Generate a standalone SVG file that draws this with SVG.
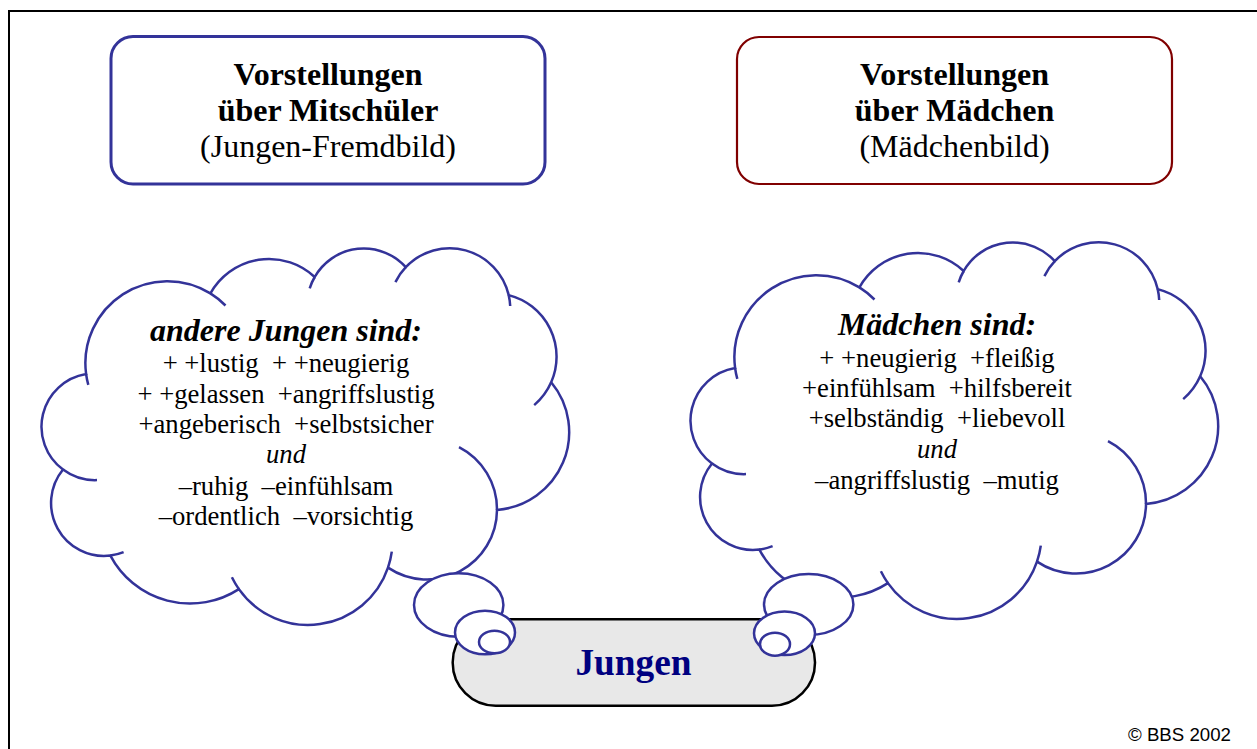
<svg xmlns="http://www.w3.org/2000/svg" xmlns:xlink="http://www.w3.org/1999/xlink" width="1257" height="749" viewBox="0 0 1257 749">
<style>
.t{font-family:"Liberation Serif","Times New Roman",serif;fill:#000;text-anchor:middle;white-space:pre}
.hb{font-size:32px;font-weight:bold}
.hr{font-size:32px}
.ct{font-size:32px;font-weight:bold;font-style:italic}
.b{font-size:26.67px}
.i{font-style:italic}
.cl{fill:#fff;stroke:#333399;stroke-width:2.5}
.st{fill:none;stroke:#333399;stroke-width:2.5}
</style>
<defs>
<g id="cloud">
<path class="cl" d="M86.1,374 A82,82 0 0 1 210.4,293.4 A67,67 0 0 1 314.7,277 A56.5,56.5 0 0 1 405.8,267.2 A60.5,60.5 0 0 1 508.7,295.1 A63.6,63.6 0 0 1 551.2,382.3 A78,78 0 0 1 497,509.9 A70,70 0 0 1 388,567.6 A84.5,84.5 0 0 1 238.9,589.1 A90,90 0 0 1 110.4,555.6 A53,53 0 0 1 63,469.5 A53.4,53.4 0 0 1 86.1,374 Z"/>
<path class="st" d="M88.3,384.9 A82,82 0 0 1 86.1,374 M210.4,293.4 A82,82 0 0 1 225.5,305.5 M309.7,288.3 A56.5,56.5 0 0 1 314.7,277 M395.4,282.1 A60.5,60.5 0 0 1 405.8,267.2 M508.7,295.1 A60.5,60.5 0 0 1 510.2,306 M551.2,382.3 A63.6,63.6 0 0 1 534.2,405.1 M459,447.1 A70,70 0 0 1 497,509.9 M391.8,551.7 A84.5,84.5 0 0 1 388,567.6 M238.9,589.1 A84.5,84.5 0 0 1 231.9,577.3 M123.6,552.2 A53,53 0 0 1 110.4,555.6 M97,480.1 A53.4,53.4 0 0 1 63,469.5"/>
</g>
</defs>
<rect width="1257" height="749" fill="#fff"/>
<path d="M9,749 V11 H1257" fill="none" stroke="#000" stroke-width="2"/>

<g id="box-left">
<rect x="111" y="36.5" width="434" height="147.5" rx="22" fill="#fff" stroke="#333399" stroke-width="3"/>
<text class="t hb" x="328" y="85">Vorstellungen</text>
<text class="t hb" x="328" y="121">über Mitschüler</text>
<text class="t hr" x="328" y="157">(Jungen-Fremdbild)</text>
</g>

<g id="box-right">
<rect x="737" y="37" width="435" height="147" rx="22" fill="#fff" stroke="#800000" stroke-width="2.2"/>
<text class="t hb" x="954.5" y="85">Vorstellungen</text>
<text class="t hb" x="954.5" y="121">über Mädchen</text>
<text class="t hr" x="954.5" y="157">(Mädchenbild)</text>
</g>

<g id="label-jungen">
<rect x="452.7" y="619.3" width="362.3" height="86.4" rx="43" ry="43" fill="#e8e8e8" stroke="#000" stroke-width="2.5"/>
<text x="633.5" y="675" font-family="'Liberation Serif','Times New Roman',serif" font-size="37.3" font-weight="bold" fill="#000080" text-anchor="middle">Jungen</text>
</g>

<g id="cloud-left">
<use xlink:href="#cloud" href="#cloud"/>
<ellipse class="cl" cx="458.7" cy="605" rx="44.7" ry="31.7"/>
<ellipse class="cl" cx="485" cy="632.5" rx="30" ry="21.8"/>
<ellipse class="cl" cx="494.5" cy="642" rx="15.5" ry="11.2"/>
<text class="t ct" x="286" y="341">andere Jungen sind:</text>
<text class="t b" x="286" y="372">+ +lustig  + +neugierig</text>
<text class="t b" x="286" y="403">+ +gelassen  +angriffslustig</text>
<text class="t b" x="286" y="433">+angeberisch  +selbstsicher</text>
<text class="t b i" x="286" y="463">und</text>
<text class="t b" x="286" y="495">–ruhig  –einfühlsam</text>
<text class="t b" x="286" y="525">–ordentlich  –vorsichtig</text>
</g>

<g id="cloud-right">
<use xlink:href="#cloud" href="#cloud" transform="translate(649,-6)"/>
<ellipse class="cl" cx="808.7" cy="604.5" rx="44.7" ry="30.5"/>
<ellipse class="cl" cx="784.5" cy="633.3" rx="30.5" ry="21.7"/>
<ellipse class="cl" cx="775" cy="644.2" rx="15" ry="11.5"/>
<text class="t ct" x="937" y="335">Mädchen sind:</text>
<text class="t b" x="937" y="367">+ +neugierig  +fleißig</text>
<text class="t b" x="937" y="397">+einfühlsam  +hilfsbereit</text>
<text class="t b" x="937" y="427">+selbständig  +liebevoll</text>
<text class="t b i" x="937" y="458">und</text>
<text class="t b" x="937" y="489">–angriffslustig  –mutig</text>
</g>

<g id="connectors"></g>

<text x="1128" y="741" font-family="'Liberation Sans',Arial,sans-serif" font-size="18.67" fill="#000">© BBS 2002</text>
</svg>
